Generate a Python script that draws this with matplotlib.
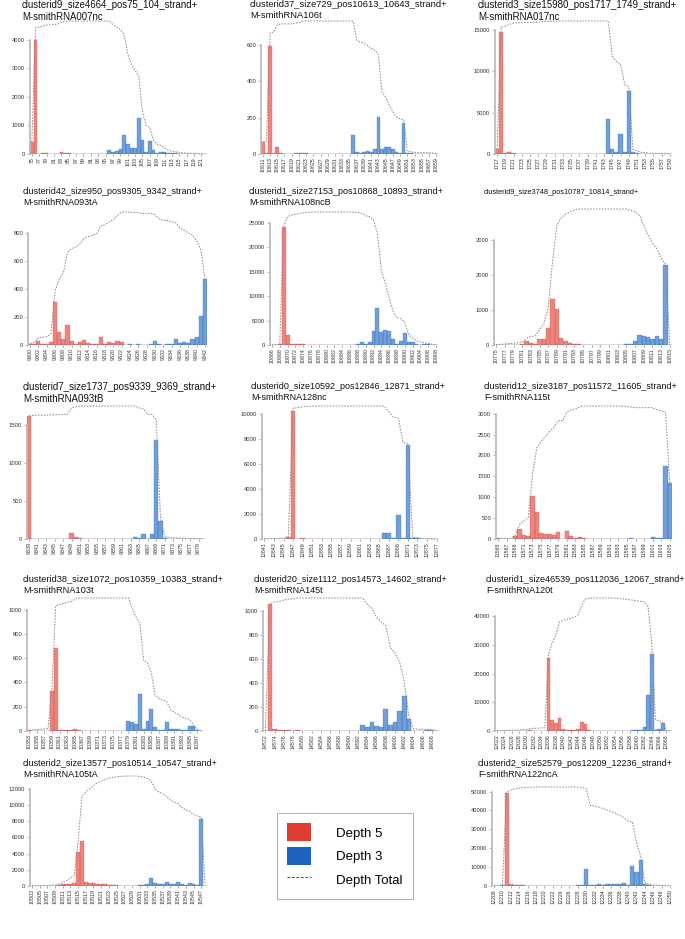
import matplotlib
matplotlib.use("Agg")
import matplotlib.pyplot as plt
import numpy as np
from matplotlib.lines import Line2D
from matplotlib.patches import Patch

plt.rcParams["font.family"] = ["Liberation Sans", "DejaVu Sans"]

# ---- data: per cluster, first position, 5' (depth 5) and 3' (depth 3) counts, total depth
a_title = "clusterid9_size4664_pos75_104_strand+\nM-smithRNA007nc"
a_start = 75
a_red = [420, 4010, 15, 50, 25, 5, 15, 15, 70, 20,
         19, 0, 0, 0, 0, 0, 0, 0, 0, 0,
         0, 0, 0, 0, 0, 0, 0, 0, 0, 0,
         0, 0, 0, 0, 0, 0, 0, 0, 0, 0,
         0, 0, 0, 0, 0, 0, 0, 0]
a_blue = [0, 0, 0, 0, 0, 0, 0, 0, 0, 0,
          0, 0, 0, 0, 0, 0, 0, 0, 0, 0,
          0, 130, 80, 90, 170, 680, 360, 220, 200, 1260,
          480, 70, 450, 130, 50, 80, 75, 40, 20, 20,
          15, 15, 10, 5, 5, 5, 5, 0]
a_total = [420, 4430, 4445, 4495, 4520, 4525, 4540, 4555, 4625, 4645,
           4664, 4664, 4664, 4664, 4664, 4664, 4664, 4664, 4664, 4664,
           4664, 4664, 4534, 4454, 4364, 4194, 3514, 3154, 2934, 2734,
           1474, 994, 924, 474, 344, 294, 214, 139, 99, 79,
           59, 44, 29, 19, 14, 9, 4, 0]
a_yticks = [0, 1000, 2000, 3000, 4000]

b_title = "clusterid37_size729_pos10613_10643_strand+\nM-smithRNA106t"
b_start = 10611
b_red = [65, 5, 595, 5, 40, 5, 0, 0, 0, 5,
         3, 5, 3, 0, 0, 0, 0, 0, 0, 0,
         0, 0, 0, 0, 0, 0, 0, 0, 0, 0,
         0, 0, 0, 0, 0, 0, 0, 0, 0, 0,
         0, 0, 0, 0, 0, 0, 0, 0, 0]
b_blue = [0, 0, 0, 0, 0, 0, 0, 0, 0, 0,
          0, 0, 0, 0, 0, 0, 0, 0, 0, 0,
          0, 0, 0, 0, 0, 105, 10, 8, 12, 15,
          10, 25, 205, 30, 40, 38, 28, 12, 5, 170,
          6, 3, 2, 0, 0, 0, 2, 2, 2]
b_total = [65, 70, 665, 670, 710, 715, 715, 715, 715, 720,
           723, 728, 731, 731, 731, 731, 731, 731, 731, 731,
           731, 731, 731, 731, 731, 731, 626, 616, 608, 596,
           581, 571, 546, 341, 311, 271, 233, 205, 193, 188,
           18, 12, 9, 7, 7, 7, 7, 5, 3]
b_yticks = [0, 200, 400, 600]

c_title = "clusterid3_size15980_pos1717_1749_strand+\nM-smithRNA017nc"
c_start = 1717
c_red = [600, 14750, 80, 220, 150, 40, 10, 5, 20, 30,
         30, 30, 30, 10, 30, 20, 0, 0, 0, 0,
         0, 0, 0, 0, 0, 0, 0, 0, 0, 0,
         0, 0, 0, 0, 0, 0, 0, 0, 0, 0,
         0, 0, 0]
c_blue = [0, 0, 0, 0, 0, 0, 0, 0, 0, 0,
          0, 0, 0, 0, 0, 0, 0, 0, 0, 0,
          0, 0, 0, 0, 0, 0, 0, 4250, 650, 300,
          2450, 300, 7550, 200, 150, 60, 40, 30, 20, 15,
          10, 10, 5]
c_total = [600, 15350, 15430, 15650, 15800, 15840, 15850, 15855, 15875, 15905,
           15935, 15965, 15995, 16005, 16035, 16055, 16055, 16055, 16055, 16055,
           16055, 16055, 16055, 16055, 16055, 16055, 16055, 16055, 11805, 11155,
           10855, 8405, 8105, 555, 355, 205, 145, 105, 75, 55,
           40, 30, 20]
c_yticks = [0, 5000, 10000, 15000]

d_title = "clusterid42_size950_pos9305_9342_strand+\nM-smithRNA093tA"
d_start = 9300
d_red = [10, 10, 30, 5, 5, 20, 305, 90, 40, 145,
         30, 10, 25, 35, 15, 10, 10, 55, 10, 20,
         15, 30, 25, 0, 0, 0, 0, 0, 0, 0,
         0, 0, 0, 0, 0, 0, 0, 0, 0, 0,
         0, 0, 0]
d_blue = [0, 0, 0, 0, 0, 0, 0, 0, 0, 0,
          0, 0, 0, 0, 0, 0, 0, 0, 0, 0,
          0, 0, 0, 0, 5, 0, 5, 0, 0, 10,
          30, 10, 0, 10, 5, 40, 15, 20, 15, 40,
          60, 210, 475]
d_total = [10, 20, 50, 55, 60, 80, 385, 475, 515, 660,
           690, 700, 725, 760, 775, 785, 795, 850, 860, 880,
           895, 925, 950, 950, 950, 945, 945, 940, 940, 940,
           930, 900, 890, 890, 880, 875, 835, 820, 800, 785,
           745, 685, 475]
d_yticks = [0, 200, 400, 600, 800]

e_title = "clusterid1_size27153_pos10868_10893_strand+\nM-smithRNA108ncB"
e_start = 10866
e_red = [30, 20, 150, 24100, 2000, 250, 200, 150, 120, 100,
         60, 20, 0, 0, 0, 0, 0, 0, 0, 0,
         0, 0, 0, 0, 0, 0, 0, 0, 0, 0,
         0, 0, 0, 0, 0, 0, 0, 0, 0, 0,
         0, 0, 0]
e_blue = [0, 0, 0, 0, 0, 0, 0, 0, 0, 0,
          0, 0, 0, 0, 0, 0, 0, 0, 0, 0,
          0, 100, 150, 550, 150, 700, 2800, 7500, 2600, 3000,
          2800, 1300, 150, 850, 2400, 700, 620, 200, 100, 200,
          200, 100, 30]
e_total = [30, 50, 200, 24300, 26300, 26550, 26750, 26900, 27020, 27120,
           27180, 27200, 27200, 27200, 27200, 27200, 27200, 27200, 27200, 27200,
           27200, 27200, 27100, 26950, 26400, 26250, 25550, 22750, 15250, 12650,
           9650, 6850, 5550, 5400, 4550, 2150, 1450, 830, 630, 530,
           330, 130, 30]
e_yticks = [0, 5000, 10000, 15000, 20000, 25000]

f_title = "clusterid9_size3748_pos10787_10814_strand+"
f_start = 10775
f_red = [10, 10, 10, 10, 10, 10, 20, 110, 50, 20,
         180, 160, 480, 1310, 1030, 200, 100, 70, 40, 40,
         0, 0, 0, 0, 0, 0, 0, 0, 0, 0,
         0, 0, 0, 0, 0, 0, 0, 0, 0, 0,
         0]
f_blue = [0, 0, 0, 0, 0, 0, 0, 0, 0, 0,
          0, 0, 0, 0, 0, 0, 0, 0, 0, 0,
          0, 0, 0, 0, 0, 0, 0, 0, 0, 0,
          40, 40, 100, 290, 260, 240, 160, 270, 180, 2280,
          10]
f_total = [10, 20, 30, 40, 50, 60, 80, 190, 240, 260,
           440, 600, 1080, 2390, 3420, 3620, 3720, 3790, 3830, 3870,
           3870, 3870, 3870, 3870, 3870, 3870, 3870, 3870, 3870, 3870,
           3870, 3830, 3790, 3690, 3400, 3140, 2900, 2740, 2470, 2290,
           10]
f_yticks = [0, 1000, 2000, 3000]

g_title = "clusterid7_size1737_pos9339_9369_strand+\nM-smithRNA093tB"
g_start = 9339
g_red = [1620, 5, 5, 0, 0, 2, 2, 2, 2, 2,
         80, 20, 10, 0, 0, 0, 0, 0, 0, 0,
         0, 0, 0, 0, 0, 0, 0, 0, 0, 0,
         0, 0, 0, 0, 0, 0, 0, 0, 0, 0,
         0, 0]
g_blue = [0, 0, 0, 0, 0, 0, 0, 0, 0, 0,
          0, 0, 0, 0, 0, 0, 0, 0, 0, 0,
          0, 0, 0, 0, 0, 25, 15, 70, 0, 70,
          1300, 240, 10, 3, 3, 3, 3, 2, 1, 1,
          1, 1]
g_total = [1620, 1625, 1630, 1630, 1630, 1632, 1634, 1636, 1638, 1640,
           1720, 1740, 1750, 1750, 1750, 1750, 1750, 1750, 1750, 1750,
           1750, 1750, 1750, 1750, 1750, 1750, 1725, 1710, 1640, 1640,
           1570, 270, 30, 20, 17, 14, 11, 8, 6, 5,
           4, 3]
g_yticks = [0, 500, 1000, 1500]

h_title = "clusterid0_size10592_pos12846_12871_strand+\nM-smithRNA128nc"
h_start = 12841
h_red = [10, 10, 10, 10, 30, 130, 10250, 30, 90, 30,
         20, 0, 0, 0, 0, 0, 0, 0, 0, 0,
         0, 0, 0, 0, 0, 0, 0, 0, 0, 0,
         0, 0, 0, 0, 0, 0, 0]
h_blue = [0, 0, 0, 0, 0, 0, 0, 0, 0, 0,
          0, 0, 0, 0, 0, 0, 0, 0, 0, 0,
          0, 0, 0, 0, 0, 450, 450, 80, 1950, 60,
          7500, 40, 40, 30, 20, 20, 20]
h_total = [10, 20, 30, 40, 70, 200, 10450, 10480, 10570, 10600,
           10620, 10620, 10620, 10620, 10620, 10620, 10620, 10620, 10620, 10620,
           10620, 10620, 10620, 10620, 10620, 10620, 10170, 9720, 9640, 7690,
           7630, 130, 90, 50, 20, 0, 0]
h_yticks = [0, 2000, 4000, 6000, 8000, 10000]

i_title = "clusterid12_size3187_pos11572_11605_strand+\nF-smithRNA115t"
i_start = 11565
i_red = [15, 0, 0, 0, 80, 250, 100, 60, 1040, 640,
         150, 120, 120, 100, 160, 0, 200, 60, 20, 50,
         20, 0, 0, 0, 0, 0, 0, 0, 0, 0,
         0, 0, 0, 0, 0, 0, 0, 0, 0, 0,
         0]
i_blue = [0, 0, 0, 0, 0, 0, 0, 0, 0, 0,
          0, 0, 0, 0, 0, 0, 0, 0, 0, 0,
          0, 0, 0, 0, 0, 0, 0, 0, 5, 10,
          10, 15, 0, 0, 0, 0, 50, 30, 30, 1750,
          1330]
i_total = [15, 15, 15, 15, 95, 345, 445, 505, 1545, 2185,
           2335, 2455, 2575, 2675, 2835, 2835, 3035, 3095, 3115, 3165,
           3185, 3185, 3185, 3185, 3185, 3185, 3185, 3185, 3185, 3180,
           3170, 3160, 3145, 3145, 3145, 3145, 3145, 3095, 3065, 3035,
           1285]
i_yticks = [0, 500, 1000, 1500, 2000, 2500, 3000]

j_title = "clusterid38_size1072_pos10359_10383_strand+\nM-smithRNA103t"
j_start = 10353
j_red = [5, 3, 3, 3, 3, 3, 330, 680, 10, 10,
         10, 5, 20, 10, 0, 0, 0, 0, 0, 0,
         0, 0, 0, 0, 0, 0, 0, 0, 0, 0,
         0, 0, 0, 0, 0, 0, 0, 0, 0, 0,
         0, 0, 0, 0, 0, 0]
j_blue = [0, 0, 0, 0, 0, 0, 0, 0, 0, 0,
          0, 0, 0, 0, 0, 0, 0, 0, 0, 0,
          0, 0, 0, 0, 0, 0, 85, 70, 55, 305,
          20, 80, 185, 30, 10, 10, 70, 20, 20, 20,
          10, 10, 45, 40, 10, 0]
j_total = [5, 8, 11, 14, 17, 20, 350, 1030, 1040, 1050,
           1060, 1065, 1085, 1095, 1095, 1095, 1095, 1095, 1095, 1095,
           1095, 1095, 1095, 1095, 1095, 1095, 1095, 1010, 940, 885,
           580, 560, 480, 295, 265, 255, 245, 175, 155, 135,
           115, 105, 95, 50, 10, 0]
j_yticks = [0, 200, 400, 600, 800, 1000]

k_title = "clusterid20_size1112_pos14573_14602_strand+\nM-smithRNA145t"
k_start = 14572
k_red = [0, 1060, 15, 5, 10, 10, 0, 8, 0, 0,
         0, 0, 0, 0, 0, 0, 0, 0, 0, 0,
         0, 0, 0, 0, 0, 0, 0, 0, 0, 0,
         0, 0, 0, 0, 0, 0, 0, 0]
k_blue = [0, 0, 0, 0, 0, 0, 0, 0, 0, 0,
          0, 0, 0, 0, 0, 0, 0, 0, 0, 0,
          0, 50, 35, 75, 40, 30, 180, 50, 75, 165,
          290, 100, 3, 2, 0, 5, 5, 3]
k_total = [0, 1060, 1075, 1080, 1090, 1100, 1100, 1108, 1108, 1108,
           1108, 1108, 1108, 1108, 1108, 1108, 1108, 1108, 1108, 1108,
           1108, 1108, 1058, 1023, 948, 908, 878, 698, 648, 573,
           408, 118, 18, 15, 13, 13, 8, 3]
k_yticks = [0, 200, 400, 600, 800, 1000]

l_title = "clusterid1_size46539_pos112036_12067_strand+\nF-smithRNA120t"
l_start = 12022
l_red = [50, 50, 50, 50, 50, 50, 50, 80, 100, 350,
         50, 50, 80, 100, 25600, 3900, 2900, 4500, 600, 300,
         400, 400, 800, 3200, 2300, 300, 100, 0, 0, 0,
         0, 0, 0, 0, 0, 0, 0, 0, 0, 0,
         0, 0, 0, 0, 0, 0, 0, 0]
l_blue = [0, 0, 0, 0, 0, 0, 0, 0, 0, 0,
          0, 0, 0, 0, 0, 0, 0, 0, 0, 0,
          0, 0, 0, 0, 0, 0, 0, 0, 0, 0,
          20, 50, 100, 150, 150, 150, 150, 200, 200, 200,
          1500, 12600, 27000, 400, 800, 2700, 60, 30]
l_total = [50, 100, 150, 200, 250, 300, 350, 430, 530, 880,
           930, 980, 1060, 1160, 26760, 30660, 33560, 38060, 38660, 38960,
           39360, 39760, 40560, 43760, 46060, 46360, 46460, 46460, 46460, 46460,
           46460, 46440, 46390, 46290, 46140, 45990, 45840, 45690, 45490, 45290,
           45090, 43590, 30990, 3990, 3590, 2790, 90, 30]
l_yticks = [0, 10000, 20000, 30000, 40000]

m_title = "clusterid2_size13577_pos10514_10547_strand+\nM-smithRNA105tA"
m_start = 10503
m_red = [10, 10, 10, 10, 10, 30, 50, 100, 200, 250,
         300, 320, 4200, 5600, 500, 400, 400, 300, 250, 200,
         150, 100, 80, 50, 30, 20, 0, 0, 0, 0,
         0, 0, 0, 0, 0, 0, 0, 0, 0, 0,
         0, 0, 0, 0, 0, 0]
m_blue = [0, 0, 0, 0, 0, 0, 0, 0, 0, 0,
          0, 0, 0, 0, 0, 0, 0, 0, 0, 0,
          0, 0, 0, 0, 0, 0, 0, 50, 100, 150,
          300, 1000, 400, 200, 300, 500, 200, 200, 500, 300,
          150, 400, 200, 100, 8300, 0]
m_total = [10, 20, 30, 40, 50, 80, 130, 230, 430, 680,
           980, 1300, 5500, 11100, 11600, 12000, 12400, 12700, 12950, 13150,
           13300, 13400, 13480, 13530, 13560, 13580, 13580, 13580, 13530, 13430,
           13280, 12980, 11980, 11580, 11380, 11080, 10580, 10380, 10180, 9680,
           9380, 9230, 8830, 8630, 8530, 230]
m_yticks = [0, 2000, 4000, 6000, 8000, 10000, 12000]

n_title = "clusterid2_size52579_pos12209_12236_strand+\nF-smithRNA122ncA"
n_start = 12208
n_red = [100, 200, 300, 49000, 1200, 600, 400, 300, 150, 100,
         50, 0, 0, 0, 0, 0, 0, 0, 0, 0,
         0, 0, 0, 0, 0, 0, 0, 0, 0, 0,
         0, 0, 0, 0, 0, 0, 0, 0, 0, 0,
         0, 0, 0]
n_blue = [0, 0, 0, 0, 0, 0, 0, 0, 0, 0,
          0, 0, 0, 0, 0, 0, 0, 0, 0, 0,
          300, 500, 9000, 300, 500, 800, 700, 1000, 800, 1200,
          1000, 1800, 700, 10500, 7500, 14000, 800, 400, 200, 150,
          100, 100, 50]
n_total = [100, 300, 600, 49600, 50800, 51400, 51800, 52100, 52250, 52350,
           52400, 52400, 52400, 52400, 52400, 52400, 52400, 52400, 52400, 52400,
           52400, 52100, 51600, 42600, 42300, 41800, 41000, 40300, 39300, 38500,
           37300, 36300, 34500, 33800, 23300, 15800, 1800, 1000, 600, 400,
           250, 150, 50]
n_yticks = [0, 10000, 20000, 30000, 40000, 50000]

legend_labels = ["Depth 5", "Depth 3", "Depth Total"]

# ---- layout (pixels in a 685 x 939 canvas)
W, H = 685, 939
RED = "#e03c31"
BLUE = "#1c64c0"
LINE = "#8a8a8a"

panels = [
    # data, axes left, axes right, zero line y, axes height, title x, title top y, title size
    ((a_title, a_start, a_red, a_blue, a_total, a_yticks), 30, 207, 154, 133, 22, 0, 6.9),
    ((b_title, b_start, b_red, b_blue, b_total, b_yticks), 261, 438, 154, 133, 250, 0, 6.75),
    ((c_title, c_start, c_red, c_blue, c_total, c_yticks), 495, 672, 154, 133, 478, 0, 7.0),
    ((d_title, d_start, d_red, d_blue, d_total, d_yticks), 28, 207, 345, 133, 23, 187, 6.5),
    ((e_title, e_start, e_red, e_blue, e_total, e_yticks), 270, 438, 345, 133, 249, 187, 6.5),
    ((f_title, f_start, f_red, f_blue, f_total, f_yticks), 494, 672, 345, 136, 484, 189, 5.3),
    ((g_title, g_start, g_red, g_blue, g_total, g_yticks), 27, 205, 539, 133, 23, 382, 7.0),
    ((h_title, h_start, h_red, h_blue, h_total, h_yticks), 262, 439, 539, 133, 251, 382, 6.5),
    ((i_title, i_start, i_red, i_blue, i_total, i_yticks), 496, 672, 539, 133, 484, 382, 6.5),
    ((j_title, j_start, j_red, j_blue, j_total, j_yticks), 27, 203, 731, 133, 23, 575, 6.7),
    ((k_title, k_start, k_red, k_blue, k_total, k_yticks), 263, 439, 731, 133, 254, 575, 6.5),
    ((l_title, l_start, l_red, l_blue, l_total, l_yticks), 495, 672, 731, 133, 486, 575, 6.5),
    ((m_title, m_start, m_red, m_blue, m_total, m_yticks), 30, 207, 886, 110, 23, 759, 6.5),
    ((n_title, n_start, n_red, n_blue, n_total, n_yticks), 492, 672, 886, 99, 478, 759, 6.5),
]

fig = plt.figure(figsize=(W / 100, H / 100), dpi=100)

for (title, start, red, blue, total, yticks), left, right, zero_y, ax_h, tx, ty, tsize in panels:
    ax = fig.add_axes([left / W, 1 - zero_y / H, (right - left) / W, ax_h / H])
    x = np.arange(start, start + len(red))
    ax.bar(x, red, width=1.0, color=RED, alpha=0.62, edgecolor=RED, linewidth=0.3)
    ax.bar(x, blue, width=1.0, color=BLUE, alpha=0.62, edgecolor=BLUE, linewidth=0.3)
    ax.plot(x, total, color=LINE, linewidth=0.7, linestyle=(0, (1.6, 1.4)), clip_on=False)
    ax.set_xlim(start - 0.5, start + len(red) - 0.5)
    ax.set_ylim(0, max(total))

    for side in ("top", "right", "bottom"):
        ax.spines[side].set_visible(False)
    ax.spines["left"].set_bounds(0, yticks[-1])
    ax.spines["left"].set_color("#b8b8b8")
    ax.spines["left"].set_linewidth(1.2)

    ax.set_yticks(yticks)
    ax.set_yticklabels([str(v) for v in yticks])
    ax.tick_params(axis="y", length=2, width=0.5, color="#9a9a9a",
                   labelsize=4.2, labelcolor="#333333", pad=1.5)
    ax.set_xticks(x[::2])
    ax.set_xticklabels([str(v) for v in x[::2]], rotation=90)
    ax.tick_params(axis="x", length=1.5, width=0.4, color="#555555",
                   labelsize=3.8, labelcolor="#333333", pad=1)

    fig.text(tx / W, 1 - ty / H, title, ha="left", va="top",
             fontsize=tsize, linespacing=1.3, color="#111111")

handles = [
    Patch(facecolor=RED, edgecolor="none"),
    Patch(facecolor=BLUE, edgecolor="none"),
    Line2D([], [], color="#555555", linewidth=0.8, linestyle=(0, (2.5, 1.5))),
]
leg = fig.legend(handles, legend_labels, loc="center", bbox_to_anchor=(345 / W, 1 - 856 / H),
                 fontsize=9.5, frameon=True, fancybox=False, edgecolor="#888888",
                 handlelength=1.8, handleheight=1.7, borderpad=0.8, labelspacing=0.45,
                 handletextpad=1.9, borderaxespad=0)
leg.get_frame().set_linewidth(0.6)

fig.savefig("out.png", dpi=100)
